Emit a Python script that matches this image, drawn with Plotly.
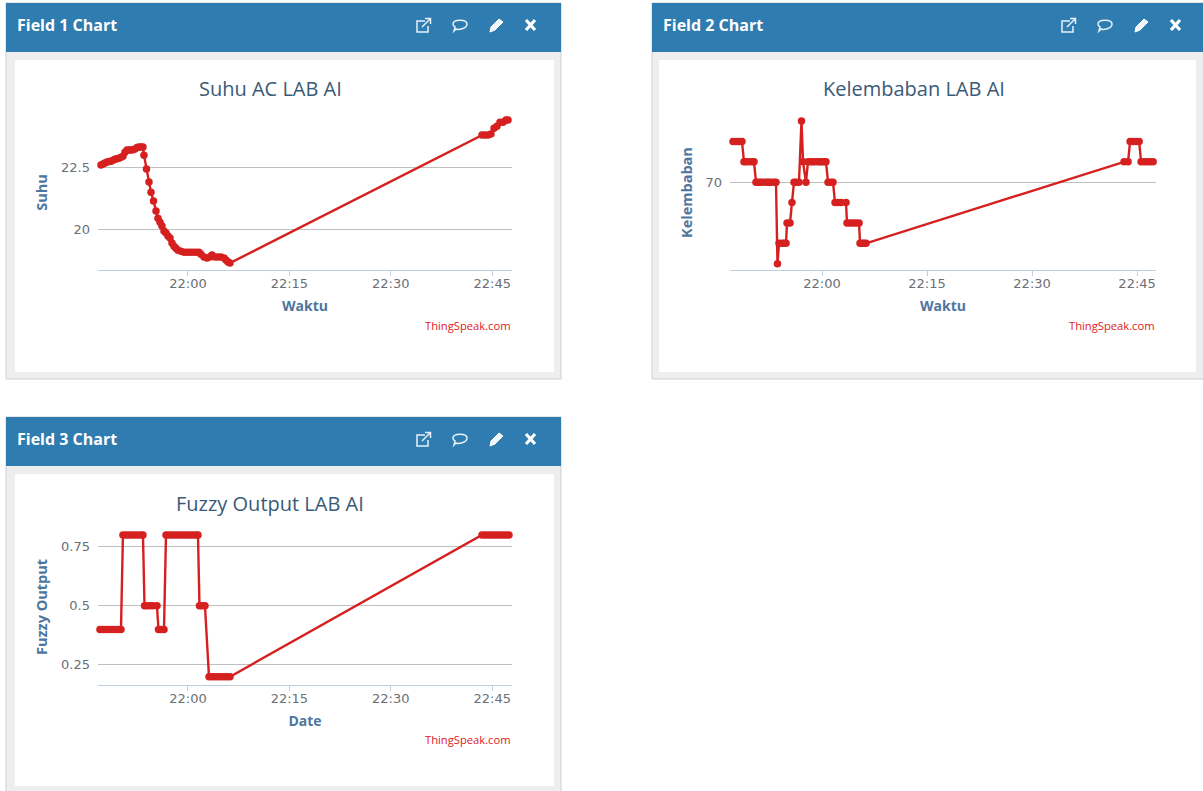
import pandas as pd
import plotly.graph_objects as go

W, H = 1203, 791
BASE = pd.Timestamp("2024-01-01 22:00:00")

# minutes relative to 22:00
suhu_min = [-12.87,-12.57,-12.28,-11.98,-11.69,-11.39,-11.09,-10.8,-10.5,-10.21,-9.91,-9.62,-9.32,-9.02,-8.73,-8.43,-8.14,-7.84,-7.54,-7.25,-6.95,-6.66,-6.51,-6.14,-5.77,-5.47,-5.1,-4.73,-4.44,-4.14,-3.85,-3.55,-3.25,-2.96,-2.66,-2.37,-2.07,-1.78,-1.48,-1.04,-0.59,-0.15,0.3,0.74,1.18,1.63,1.92,2.37,2.81,3.25,3.55,3.99,4.44,4.88,5.33,5.62,5.92,6.21,43.49,43.93,44.38,44.82,45.27,45.71,46.15,46.6,47.04,47.34]
suhu_val = [22.58,22.62,22.66,22.7,22.72,22.74,22.78,22.82,22.84,22.86,22.9,22.94,23.1,23.19,23.19,23.19,23.2,23.23,23.29,23.31,23.31,23.31,22.98,22.42,21.9,21.49,21.13,20.73,20.44,20.28,20.12,19.92,19.84,19.72,19.64,19.44,19.31,19.23,19.15,19.11,19.07,19.07,19.07,19.07,19.07,19.07,18.99,18.87,18.83,18.87,18.95,18.87,18.87,18.87,18.83,18.75,18.67,18.63,23.79,23.79,23.79,23.83,24.07,24.15,24.31,24.31,24.4,24.4]

lembab_min = [-12.71,-12.29,-11.86,-11.43,-11.14,-10.86,-10.43,-10,-9.71,-9.43,-9.14,-8.86,-8.57,-8.14,-7.86,-7.57,-7.29,-6.86,-6.57,-6.36,-6.14,-5.71,-5.43,-5.14,-5,-4.57,-4.29,-4,-3.71,-3.29,-2.93,-2.71,-2.29,-2,-1.57,-1.29,-1,-0.57,-0.29,0,0.29,0.57,0.86,1.29,1.57,1.86,2.29,2.71,3.43,3.57,4,4.43,4.86,5.29,5.43,5.71,6,6.29,43.14,43.71,44,44.43,44.86,45.29,45.57,46,46.43,46.86,47.29]
lembab_val = [72,72,72,72,71,71,71,71,71,70,70,70,70,70,70,70,70,70,70,66,67,67,67,67,68,68,69,70,70,70,73,71,70,71,71,71,71,71,71,71,71,71,70,70,70,69,69,69,69,68,68,68,68,68,67,67,67,67,71,71,72,72,72,72,71,71,71,71,71]

fuzzy_min = [-13.02,-12.57,-12.13,-11.69,-11.24,-10.8,-10.36,-9.91,-9.62,-9.17,-8.73,-8.28,-7.84,-7.4,-6.95,-6.66,-6.43,-6.07,-5.62,-5.18,-4.59,-4.36,-3.99,-3.55,-3.25,-2.81,-2.37,-1.92,-1.48,-1.04,-0.59,-0.15,0.3,0.74,1.18,1.48,1.7,2.07,2.51,3.11,3.55,3.99,4.44,4.88,5.33,5.77,6.21,43.49,43.93,44.38,44.82,45.27,45.71,46.15,46.6,47.04,47.48]
fuzzy_val = [0.4]*8 + [0.8]*8 + [0.5]*5 + [0.4]*3 + [0.8]*12 + [0.5]*3 + [0.2]*8 + [0.8]*10

titles = ["Suhu AC LAB AI", "Kelembaban LAB AI", "Fuzzy Output LAB AI"]
headers = ["Field 1 Chart", "Field 2 Chart", "Field 3 Chart"]
y_titles = ["Suhu", "Kelembaban", "Fuzzy Output"]
x_titles = ["Waktu", "Waktu", "Date"]
y_ticks = [[20, 22.5], [70], [0.25, 0.5, 0.75]]
y_ticktext = [["20", "22.5"], ["70"], ["0.25", "0.5", "0.75"]]
x_series = [suhu_min, lembab_min, fuzzy_min]
y_series = [suhu_val, lembab_val, fuzzy_val]

RED = "#d62020"
HEAD = "#2e7cb0"
TITLE = "#3a5a78"
AXT = "#4d759e"
TICKC = "#6a6f75"

# layout in pixels: plot box, y range, x range in minutes
plots = [
    dict(x0=98, x1=512, top=115, bot=270, yr=[18.35, 24.6], xr=[-13.31, 47.93], panel=(6, 3, 561, 379)),
    dict(x0=730, x1=1156, top=115, bot=270, yr=[65.69, 73.3], xr=[-13.14, 47.7], panel=(652, 3, 1204, 379)),
    dict(x0=98, x1=512, top=529, bot=685, yr=[0.165, 0.825], xr=[-13.31, 47.93], panel=(6, 417, 561, 796)),
]

def px(x): return x / W
def py(y): return 1 - y / H
def when(m): return BASE + pd.to_timedelta(m, unit="min")

fig = go.Figure()
shapes, notes = [], []

def rect(x0, y0, x1, y1, fill, line=None, layer="below"):
    shapes.append(dict(type="rect", xref="paper", yref="paper", x0=px(x0), x1=px(x1), y0=py(y0), y1=py(y1),
                       fillcolor=fill, line=dict(color=line or fill, width=1 if line else 0), layer=layer))

def icon(path_pts, ox, oy, color="#e8f1f7", width=1.5, fill=None):
    d = ""
    for c in path_pts:
        if isinstance(c, str):
            d += c
        else:
            d += f"{px(ox + c[0]):.5f},{py(oy + c[1]):.5f} "
    shapes.append(dict(type="path", xref="paper", yref="paper", path=d, layer="above",
                       line=dict(color=color, width=width), fillcolor=fill or "rgba(0,0,0,0)"))

def text(x, y, s, size, color, anchor="center", bold=False, family="Open Sans", angle=0):
    notes.append(dict(xref="paper", yref="paper", x=px(x), y=py(y), text=f"<b>{s}</b>" if bold else s,
                      showarrow=False, xanchor=anchor, yanchor="middle", textangle=angle,
                      xshift=0, font=dict(size=size, color=color, family=family)))

for i, p in enumerate(plots):
    n = "" if i == 0 else str(i + 1)
    L, T, R, B = p["panel"]
    rect(L, T, R, B, "#eeeeee", "#cfcfcf")
    rect(L, T, R, T + 49, HEAD)
    rect(L + 9 if i != 1 else L + 7, T + 57, R - 7 if i != 1 else R - 8, T + 369, "#ffffff")

    fig.add_trace(go.Scatter(
        x=[when(m) for m in x_series[i]], y=y_series[i], xaxis=f"x{n}", yaxis=f"y{n}",
        mode="lines+markers", line=dict(color=RED, width=2.4), marker=dict(color=RED, size=7.5),
        showlegend=False, cliponaxis=False))

    fig.update_layout({
        f"xaxis{n}": dict(
            domain=[px(p["x0"]), px(p["x1"])], anchor=f"y{n}", type="date",
            range=[when(p["xr"][0]), when(p["xr"][1])],
            tick0=BASE, dtick=900000, tickformat="%H:%M", showgrid=False, zeroline=False,
            showline=True, linecolor="#c0d0e0", linewidth=1, ticks="outside", tickcolor="#c0d0e0",
            ticklen=5, ticklabelstandoff=-4, tickfont=dict(size=13, color=TICKC, family="DejaVu Sans"),
            title=dict(text=f"<b>{x_titles[i]}</b>", standoff=11,
                       font=dict(size=14, color=AXT, family="Open Sans"))),
        f"yaxis{n}": dict(
            domain=[py(p["bot"]), py(p["top"])], anchor=f"x{n}", range=p["yr"],
            tickvals=y_ticks[i], ticktext=y_ticktext[i], showgrid=True, gridcolor="#c0c0c0",
            gridwidth=1, zeroline=False, showline=False, ticks="", ticklabelstandoff=7,
            tickfont=dict(size=13, color=TICKC, family="DejaVu Sans"),
            title=dict(text=f"<b>{y_titles[i]}</b>", standoff=9,
                       font=dict(size=14.5, color=AXT, family="Open Sans"))),
    })

    text(L + 9, T + 22, headers[i], 16, "#ffffff", anchor="left", bold=True)
    cx = (p["x0"] + p["x1"]) / 2 - 35 if i != 1 else 914
    text(cx, T + 85 if i < 2 else T + 86, titles[i], 20, TITLE)
    text(p["x1"] + 0.5, p["bot"] + 56 if i != 2 else p["bot"] + 54, "ThingSpeak.com", 11.2, "#e02020", anchor="right")

    # toolbar icons
    ox = 416 if i != 1 else 1061
    oy = T + 15
    icon(["M", (9, 3), "L", (1, 3), "L", (1, 14), "L", (12, 14), "L", (12, 8)], ox, oy)
    icon(["M", (6, 9), "L", (14, 1), "M", (9, 0.5), "L", (14.5, 0.5), "L", (14.5, 6)], ox, oy)
    cx0 = ox + 36
    icon(["M", (1, 6), "C", (1, 1), (15, 1), (15, 6), "C", (15, 11), (6, 12), (4, 11), "L", (2, 13), "L", (3, 9), "C", (2, 8.5), (1, 7.5), (1, 6), "Z"], cx0, oy)
    pen = ox + 73
    icon(["M", (1, 14), "L", (2, 9), "L", (10, 1), "L", (14, 4), "L", (6, 12), "Z"], pen, oy, color="#ffffff", width=1, fill="#f2f6fa")
    x0 = ox + 109
    icon(["M", (1, 2), "L", (10, 12), "M", (10, 2), "L", (1, 12)], x0, oy, color="#ffffff", width=3.2)

fig.update_layout(width=W, height=H, margin=dict(l=0, r=0, t=0, b=0), autosize=False,
                  paper_bgcolor="#ffffff", plot_bgcolor="rgba(0,0,0,0)", shapes=shapes, annotations=notes,
                  hovermode=False)
fig.write_html("out.html", post_script="document.body.style.margin='0';document.documentElement.style.overflow='hidden';",
               config=dict(displayModeBar=False))
